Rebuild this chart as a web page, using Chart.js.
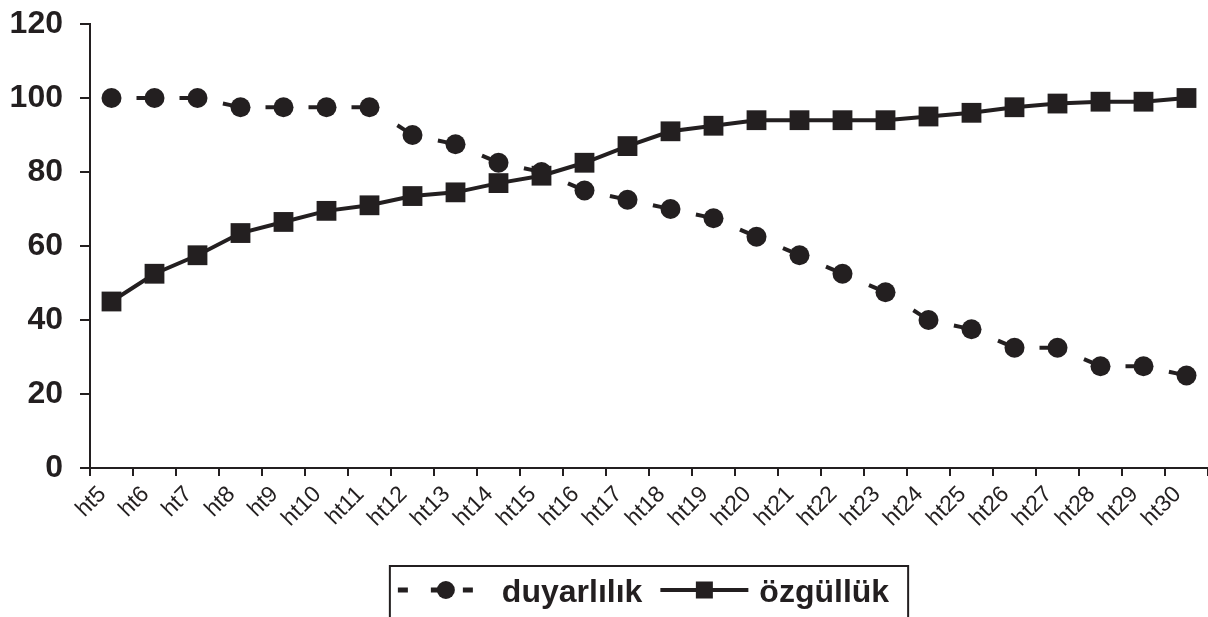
<!DOCTYPE html>
<html>
<head>
<meta charset="utf-8">
<script src="https://cdn.jsdelivr.net/npm/chart.js@4"></script>
<style>
html, body { margin: 0; padding: 0; background: #fff; overflow: hidden; }
canvas { display: block; }
</style>
</head>
<body>
<canvas id="myChart" width="1208" height="617"></canvas>
<script>
const labels = ["ht5", "ht6", "ht7", "ht8", "ht9", "ht10", "ht11", "ht12", "ht13", "ht14", "ht15", "ht16", "ht17",
    "ht18", "ht19", "ht20", "ht21", "ht22", "ht23", "ht24", "ht25", "ht26", "ht27", "ht28", "ht29", "ht30"];
const duyarlilik = [100, 100, 100, 97.5, 97.5, 97.5, 97.5, 90, 87.5, 82.5, 80, 75, 72.5,
    70, 67.5, 62.5, 57.5, 52.5, 47.5, 40, 37.5, 32.5, 32.5, 27.5, 27.5, 25];
const ozgulluk = [45, 52.5, 57.5, 63.5, 66.5, 69.5, 71, 73.5, 74.5, 77, 79, 82.5, 87,
    91, 92.5, 94, 94, 94, 94, 95, 96, 97.5, 98.5, 99, 99, 100];
const yMin = 0;
const yMax = 120;
const yStep = 20;

const ink = "#231f20";
const fontName = '"Liberation Sans", Arial, sans-serif';

// short dash just before each circle, like the original
function dashBeforePoint(ctx) {
    let len = Math.hypot(ctx.p1.x - ctx.p0.x, ctx.p1.y - ctx.p0.y);
    return [0, Math.max(len - 18, 0), 9, 1000];
}

const legendBox = {
    id: "legendBox",
    afterDraw(chart) {
        const c = chart.ctx;
        const ds = chart.data.datasets;
        c.save();
        c.font = "bold 32px " + fontName;
        const w1 = c.measureText(ds[0].label).width;
        const w2 = c.measureText(ds[1].label).width;
        const total = 8 + 75 + 29 + w1 + 18 + 88 + 11 + w2 + 19;
        const cx = (chart.chartArea.left + chart.chartArea.right) / 2;
        let x = cx - total / 2;
        const top = chart.chartArea.bottom + 98;
        const sy = top + 24;
        c.strokeStyle = ink;
        c.fillStyle = ink;
        c.lineWidth = 2;
        c.strokeRect(x, top, total, 90);
        x += 8;

        c.lineWidth = 5;
        c.beginPath();
        c.moveTo(x, sy); c.lineTo(x + 10, sy);
        c.moveTo(x + 33, sy); c.lineTo(x + 48, sy);
        c.moveTo(x + 65, sy); c.lineTo(x + 75, sy);
        c.stroke();
        c.beginPath();
        c.arc(x + 48, sy, 9, 0, Math.PI * 2);
        c.fill();
        x += 75 + 29;
        c.textBaseline = "middle";
        c.fillText(ds[0].label, x, sy + 3);
        x += w1 + 18;

        c.lineWidth = 4;
        c.beginPath();
        c.moveTo(x, sy); c.lineTo(x + 88, sy);
        c.stroke();
        c.fillRect(x + 44 - 8.5, sy - 8.5, 17, 17);
        x += 88 + 11;
        c.fillText(ds[1].label, x, sy + 3);
        c.restore();
    },
};

new Chart(document.getElementById("myChart"), {
    type: "line",
    data: {
        labels: labels,
        datasets: [
            {
                label: "duyarlılık",
                data: duyarlilik,
                borderColor: ink,
                backgroundColor: ink,
                borderWidth: 4,
                pointStyle: "circle",
                pointRadius: 10,
                pointBorderWidth: 0,
                order: 1,
                segment: {
                    borderDash: dashBeforePoint,
                    borderDashOffset: (ctx) => (ctx.p0DataIndex % 2) * 0.001,
                },
            },
            {
                label: "özgüllük",
                data: ozgulluk,
                borderColor: ink,
                backgroundColor: ink,
                borderWidth: 4,
                pointStyle: "rect",
                pointRadius: 14,
                pointBorderWidth: 0,
                order: 0,
            },
        ],
    },
    plugins: [legendBox],
    options: {
        responsive: false,
        animation: false,
        devicePixelRatio: 1,
        layout: {
            autoPadding: false,
            padding: { top: 24, right: 0, left: 0, bottom: 74 },
        },
        plugins: {
            legend: { display: false },
            tooltip: { enabled: false },
        },
        scales: {
            x: {
                offset: true,
                grid: {
                    offset: true,
                    drawOnChartArea: false,
                    tickLength: 8,
                    color: ink,
                    lineWidth: 2,
                },
                border: { color: ink, width: 2 },
                ticks: {
                    autoSkip: false,
                    maxRotation: 45,
                    minRotation: 45,
                    padding: 5,
                    labelOffset: -9,
                    color: ink,
                    font: { family: fontName, size: 23 },
                },
                afterFit: (scale) => {
                    scale.height = 75;
                    scale.paddingLeft = 0;
                    scale.paddingRight = 0;
                },
            },
            y: {
                min: yMin,
                max: yMax,
                grid: {
                    drawOnChartArea: false,
                    tickLength: 10,
                    color: ink,
                    lineWidth: 2,
                },
                border: { color: ink, width: 2 },
                ticks: {
                    stepSize: yStep,
                    padding: 17,
                    color: ink,
                    font: { family: fontName, size: 32, weight: "bold" },
                },
                afterFit: (scale) => {
                    scale.width = 90;
                    scale.paddingTop = 0;
                    scale.paddingBottom = 0;
                },
            },
        },
    },
});
</script>
</body>
</html>
